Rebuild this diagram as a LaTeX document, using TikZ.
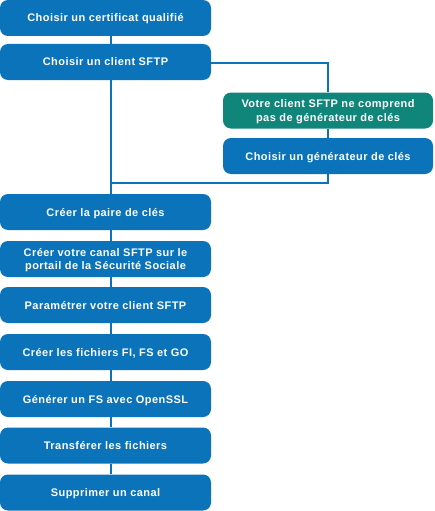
\documentclass[tikz,border=0pt]{standalone}
\usepackage{fontspec}
\setmainfont{Liberation Sans}[LetterSpace=4]
\definecolor{boxblue}{RGB}{10,115,185}
\definecolor{boxgreen}{RGB}{16,133,121}
\begin{document}
\begin{tikzpicture}[x=1pt,y=-1pt,
  stepbox/.style={draw=none,fill=boxblue,rounded corners=8pt,minimum width=211pt,minimum height=36pt,
    text=white,font=\fontsize{11}{13.5}\selectfont\bfseries,align=center,inner sep=0pt,
    text height=9pt,text depth=1pt},
  twoline/.style={text height=22.5pt},
  sidebox/.style={stepbox,minimum width=210pt},
  greenbox/.style={sidebox,fill=boxgreen},
  link/.style={draw=boxblue,line width=1.2pt}]
\useasboundingbox (0,0) rectangle (434,511);
\node[stepbox] (s1) at (105.5,18) {Choisir un certificat qualifié};
\node[stepbox] (s2) at (105.5,62) {Choisir un client SFTP};
\node[greenbox,twoline] (g) at (328,110.5) {Votre client SFTP ne comprend\\pas de générateur de clés};
\node[sidebox] (k) at (328,156) {Choisir un générateur de clés};
\node[stepbox] (s3) at (105.5,212) {Créer la paire de clés};
\node[stepbox,twoline] (s4) at (105.5,259) {Créer votre canal SFTP sur le\\portail de la Sécurité Sociale};
\node[stepbox] (s5) at (105.5,305) {Paramétrer votre client SFTP};
\node[stepbox] (s6) at (105.5,352) {Créer les fichiers FI, FS et GO};
\node[stepbox] (s7) at (105.5,399) {Générer un FS avec OpenSSL};
\node[stepbox] (s8) at (105.5,445.5) {Transférer les fichiers};
\node[stepbox] (s9) at (105.5,492.5) {Supprimer un canal};
\coordinate (j) at (111,183);
\draw[link] (s1.south -| j) -- (s2.north -| j);
\draw[link] (s2.south -| j) -- (s3.north -| j);
\draw[link] (s2.east |- 0,63) -| (g.north);
\draw[link] (g.south) -- (k.north);
\draw[link] (k.south) |- (j);
\draw[link] (s3.south -| j) -- (s4.north -| j);
\draw[link] (s4.south -| j) -- (s5.north -| j);
\draw[link] (s5.south -| j) -- (s6.north -| j);
\draw[link] (s6.south -| j) -- (s7.north -| j);
\draw[link] (s7.south -| j) -- (s8.north -| j);
\draw[link] (s8.south -| j) -- (s9.north -| j);
\end{tikzpicture}
\end{document}
